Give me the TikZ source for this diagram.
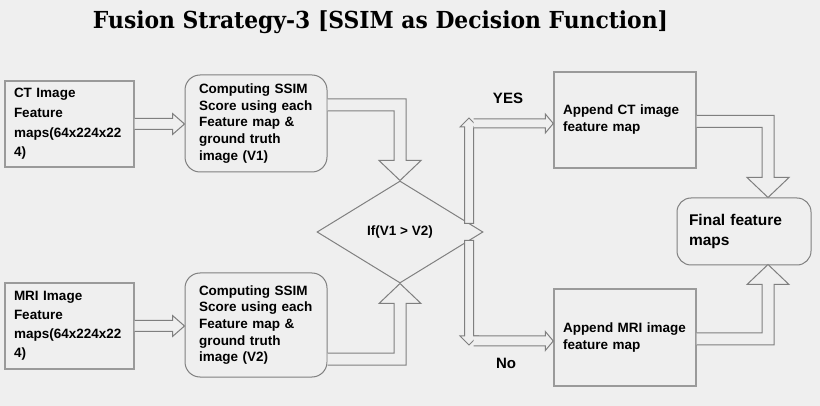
\documentclass[tikz,border=0pt]{standalone}
\usepackage{fontspec}
\usepackage{graphicx}
\setmainfont{Liberation Sans}
\newfontfamily\titlefont{DejaVu Serif}
\usetikzlibrary{calc,shapes.geometric}
\definecolor{bg}{HTML}{EFEFEF}
\definecolor{bd}{HTML}{9A9A9A}
\definecolor{rbd}{HTML}{808080}
\definecolor{ar}{HTML}{7F7F7F}

% straight horizontal block arrow: start, tip, shaft half, head half, head length
\newcommand{\harrow}[5]{%
  \path[blk] ($(#1)+(0,-#3)$) -- ($(#2)+(-#5,-#3)$) -- ($(#2)+(-#5,-#4)$) -- (#2)
    -- ($(#2)+(-#5,#4)$) -- ($(#2)+(-#5,#3)$) -- ($(#1)+(0,#3)$);}
% straight vertical block arrow: start, tip, shaft half, head half, head length, dir (1 down, -1 up)
\newcommand{\varrow}[6]{%
  \path[blk] ($(#1)+(-#3,0)$) -- ($(#2)+(-#3,{-(#5)*(#6)})$) -- ($(#2)+(-#4,{-(#5)*(#6)})$) -- (#2)
    -- ($(#2)+(#4,{-(#5)*(#6)})$) -- ($(#2)+(#3,{-(#5)*(#6)})$) -- ($(#1)+(#3,0)$) -- cycle;}
% elbow block arrow: start (box edge), tip, dir (1 down, -1 up)
\newcommand{\elbow}[3]{%
  \coordinate (ec) at (#2 |- #1);
  \path[blk] ($(#1)+(0,{-6*(#3)})$) -- ($(ec)+(6,{-6*(#3)})$) -- ($(#2)+(6,{-20*(#3)})$)
    -- ($(#2)+(21,{-20*(#3)})$) -- (#2) -- ($(#2)+(-21,{-20*(#3)})$) -- ($(#2)+(-6,{-20*(#3)})$)
    -- ($(ec)+(-6,{6*(#3)})$) -- ($(#1)+(0,{6*(#3)})$);}

\begin{document}
\begin{tikzpicture}[x=1pt,y=-1pt,
  rbox/.style={draw=bd, line width=1.4pt, fill=bg, inner sep=0pt, align=left,
    font=\fontsize{13.5}{17}\selectfont\bfseries},
  rndbox/.style={rbox, draw=rbd, line width=1pt, rounded corners=15pt},
  blk/.style={draw=ar, line width=1pt, fill=bg, line join=miter},
  lbl/.style={inner sep=0pt, font=\fontsize{15}{18}\selectfont\bfseries}]
\fill[bg] (0,0) rectangle (820,406);
\useasboundingbox (0,0) rectangle (820,406);

\node[inner sep=0pt] (title) at (380.5,22.5)
  {\resizebox*{575pt}{23pt}{\titlefont\bfseries Fusion Strategy-3 [SSIM as Decision Function]}};

\node[rbox, minimum width=129pt, minimum height=86pt, text width=111pt,
  font=\fontsize{13.5}{19.7}\selectfont\bfseries] (ct) at (69.5,124)
  {CT Image\\Feature\\maps(64x224x22\\4)};
\node[rbox, minimum width=129pt, minimum height=86pt, text width=111pt,
  font=\fontsize{13.5}{19}\selectfont\bfseries] (mri) at (69.5,326)
  {MRI Image\\Feature\\maps(64x224x22\\4)};
\node[rndbox, minimum width=142pt, minimum height=97pt, text width=114pt,
  font=\fontsize{13.5}{16.7}\selectfont\bfseries] (s1) at (256,123.5)
  {Computing SSIM\\Score using each\\Feature map \&\\ground truth\\image (V1)};
\node[rndbox, minimum width=142pt, minimum height=104pt, text width=114pt,
  font=\fontsize{13.5}{16.7}\selectfont\bfseries] (s2) at (256,325)
  {Computing SSIM\\Score using each\\Feature map \&\\ground truth\\image (V2)};
\node[draw=rbd, line width=1pt, diamond, minimum width=166pt, minimum height=102pt,
  inner sep=0pt, font=\fontsize{13.5}{16}\selectfont\bfseries] (dec) at (400,232) {If(V1 > V2)};
\node[rbox, minimum width=142pt, minimum height=96pt, text width=124pt] (act) at (625,120)
  {Append CT image\\feature map};
\node[rbox, minimum width=142pt, minimum height=97pt, text width=124pt] (amri) at (625,337.5)
  {Append MRI image\\feature map};
\node[rndbox, rounded corners=14pt, minimum width=134pt, minimum height=67pt, text width=110pt,
  font=\fontsize{15.5}{20}\selectfont\bfseries] (fin) at (744,231.5)
  {Final feature\\maps};

\node[lbl] (yes) at (508,98) {YES};
\node[lbl] (no) at (506,363) {No};

% inputs to SSIM boxes
\coordinate (ctt) at (s1.west |- ct.east);
\harrow{ct.east}{ctt}{5.5}{10.5}{12}
\coordinate (mrit) at (s2.west |- mri.east);
\harrow{mri.east}{mrit}{5.5}{10.5}{12}

% SSIM boxes to decision
\coordinate (s1o) at ($(s1.east)+(0,-18.5)$);
\elbow{s1o}{dec.north}{1}
\coordinate (s2o) at ($(s2.east)+(0,34)$);
\elbow{s2o}{dec.south}{-1}

% YES / No branches
\coordinate (ybar) at ($(dec.east)+(-14.5,-8.5)$);
\coordinate (nbar) at ($(dec.east)+(-14.5,8.5)$);
\coordinate (ytip) at ($(ybar |- act.west)+(0,-2)$);
\coordinate (ntip) at ($(nbar |- amri.west)+(0,7.5)$);
\varrow{ybar}{ytip}{4.5}{9}{9}{-1}
\varrow{nbar}{ntip}{4.5}{9}{9}{1}
\coordinate (yh) at ($(act.west)+(0,3.5)$);
\coordinate (ys) at ($(ybar |- yh)+(4.5,0)$);
\harrow{ys}{yh}{4.5}{9.5}{8}
\coordinate (nh) at ($(amri.west)+(0,3.5)$);
\coordinate (ns) at ($(nbar |- nh)+(4.5,0)$);
\harrow{ns}{nh}{5}{9.5}{8}

% appended maps to final
\coordinate (acto) at ($(act.east)+(0,1.5)$);
\coordinate (fint) at ($(fin.north)+(24,0)$);
\elbow{acto}{fint}{1}
\coordinate (amrio) at ($(amri.east)+(0,1.5)$);
\coordinate (finb) at ($(fin.south)+(24,-1)$);
\elbow{amrio}{finb}{-1}
\end{tikzpicture}
\end{document}
